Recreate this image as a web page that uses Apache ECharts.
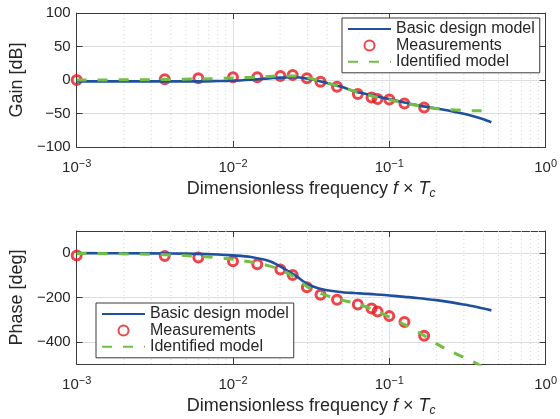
<!DOCTYPE html>
<html>
<head>
<meta charset="utf-8">
<script src="https://cdn.jsdelivr.net/npm/echarts@6/dist/echarts.min.js"></script>
<style>
html, body { margin: 0; padding: 0; background: #fff; }
#chart { width: 560px; height: 419px; }
</style>
</head>
<body>
<div id="chart"></div>
<script>
var textColor = '#262626';
var boxColor = '#3a3a3a';
var gridColor = '#dedede';
var font = '"Liberation Sans", Arial, Helvetica, sans-serif';

// 测量点
var freqMeas = [0.001, 0.00366, 0.006, 0.01, 0.0143, 0.0201, 0.0241, 0.0297, 0.0363, 0.0463, 0.0629, 0.077, 0.0841, 0.1, 0.125, 0.167];
var gainMeas = [0, 1, 2.5, 4, 4, 6, 7.5, 2.5, -2.5, -10, -21, -26, -28.5, -29, -35, -41];
var phaseMeas = [-10, -13, -20, -36, -50, -74, -99, -154, -188, -210, -232, -250, -263, -284, -311, -373];

// 基本设计模型
var freqBasic = [0.001, 0.002, 0.004, 0.006, 0.008, 0.01, 0.013, 0.016, 0.018, 0.02, 0.025, 0.03, 0.035, 0.04, 0.05, 0.06, 0.07, 0.08, 0.1, 0.125, 0.15, 0.2, 0.25, 0.3, 0.35, 0.4, 0.45];
var gainBasic = [-2, -2, -2, -2, -1.5, -1, 0.5, 2, 3, 3.5, 4, 2, -1, -4.5, -10.5, -17, -20.5, -23.5, -28.5, -33.5, -37.5, -42.5, -46.5, -50.5, -54.5, -58.5, -63];
var phaseBasic = [0, -0.5, -1.5, -3, -6, -10, -17, -30, -42, -60, -100, -140, -158, -167, -176, -180, -183, -185, -191, -197, -202, -212, -222, -232, -241, -250, -258];

// 辨识模型
var freqIdent = [0.001, 0.003, 0.006, 0.01, 0.015, 0.02, 0.025, 0.03, 0.036, 0.047, 0.063, 0.08, 0.1, 0.125, 0.167, 0.2, 0.25, 0.3, 0.35, 0.45];
var gainIdent = [0, 0.5, 1.5, 3, 4.5, 6, 6, 3.5, -1.5, -9, -18.5, -24.5, -29.5, -34.5, -40, -42.5, -44.5, -45.5, -46, -46];
var phaseIdent = [-1, -5, -14, -28, -48, -74, -110, -152, -180, -207, -230, -255, -288, -322, -372, -408, -445, -470, -493, -535];

// 次网格线 (2..9 × 每个十倍频)
var decades = [0.001, 0.01, 0.1];
var minorFreqs = [];
decades.forEach(function (d) {
    for (var k = 2; k <= 9; k++) minorFreqs.push(+(d * k).toPrecision(3));
});

var legendNames = ['Basic design model', 'Measurements', 'Identified model'];

function zip(xs, ys) {
    return xs.map(function (x, i) { return [x, ys[i]]; });
}
function minus(v) {
    return String(v).replace('-', '\u2212');
}

var myChart = echarts.init(document.getElementById('chart'));

function xMain(g) {
    return {
        type: 'log',
        logBase: 10,
        gridIndex: g,
        min: 0.001,
        max: 1,
        axisLine: { show: true, onZero: false, lineStyle: { color: boxColor } },
        axisTick: { show: true, inside: true, length: 6, lineStyle: { color: boxColor } },
        axisLabel: {
            color: textColor,
            fontFamily: font,
            margin: 11,
            formatter: function (v) {
                return '{b|10}{sup|' + minus(Math.round(Math.log10(v))) + '}';
            },
            rich: {
                b: { fontSize: 15, lineHeight: 20, color: textColor, fontFamily: font },
                sup: { fontSize: 11, lineHeight: 11, verticalAlign: 'top', color: textColor, fontFamily: font }
            }
        },
        splitLine: { show: true, lineStyle: { color: gridColor } },
        name: 'Dimensionless frequency {i|f} \u00d7 {i|T}{sub|c}',
        nameLocation: 'middle',
        nameGap: 31,
        nameTextStyle: {
            color: textColor,
            fontSize: 18,
            lineHeight: 22,
            fontFamily: font,
            rich: {
                i: { fontStyle: 'italic', fontSize: 18, lineHeight: 22, color: textColor, fontFamily: font },
                sub: { fontStyle: 'italic', fontSize: 12, lineHeight: 12, verticalAlign: 'bottom', color: textColor, fontFamily: font }
            }
        }
    };
}
function xTop(g) {
    return {
        type: 'log', logBase: 10, gridIndex: g, min: 0.001, max: 1, position: 'top',
        axisLine: { show: true, onZero: false, lineStyle: { color: boxColor } },
        axisTick: { show: true, inside: true, length: 6, lineStyle: { color: boxColor } },
        axisLabel: { show: false },
        splitLine: { show: false }
    };
}
function yMain(g, name, min, max, extra) {
    var ax = {
        type: 'value',
        gridIndex: g,
        min: min,
        max: max,
        axisLine: { show: true, onZero: false, lineStyle: { color: boxColor } },
        axisTick: { show: true, inside: true, length: 6, lineStyle: { color: boxColor } },
        axisLabel: { color: textColor, fontSize: 15, fontFamily: font, margin: 6, formatter: minus },
        splitLine: { show: true, lineStyle: { color: gridColor } },
        name: name,
        nameLocation: 'middle',
        nameGap: 47,
        nameTextStyle: { color: textColor, fontSize: 18, fontFamily: font }
    };
    for (var k in extra) ax[k] = extra[k];
    return ax;
}
function yRight(g, min, max, extra) {
    var ax = {
        type: 'value', gridIndex: g, min: min, max: max, position: 'right',
        axisLine: { show: true, onZero: false, lineStyle: { color: boxColor } },
        axisTick: { show: true, inside: true, length: 6, lineStyle: { color: boxColor } },
        axisLabel: { show: false },
        splitLine: { show: false }
    };
    for (var k in extra) ax[k] = extra[k];
    return ax;
}
function legendAt(left, top) {
    var noDot = { color: 'rgba(0,0,0,0)', borderWidth: 0, opacity: 0 };
    return {
        orient: 'vertical',
        left: left,
        top: top,
        backgroundColor: '#fff',
        borderColor: boxColor,
        borderWidth: 1,
        borderRadius: 0,
        padding: [3, 5, 3, 5],
        itemWidth: 43,
        itemHeight: 10,
        itemGap: 0.4,
        selectedMode: false,
        textStyle: { color: textColor, fontSize: 16, fontFamily: font },
        data: [
            { name: legendNames[0], itemStyle: noDot },
            { name: legendNames[1] },
            { name: legendNames[2], itemStyle: noDot }
        ]
    };
}
// 用折线画次网格线, '-' 断开
function minorSeries(g, ymin, ymax) {
    var pts = [];
    minorFreqs.forEach(function (f) {
        pts.push([f, ymin], [f, ymax], [f, '-']);
    });
    return {
        type: 'line',
        xAxisIndex: g * 2,
        yAxisIndex: g * 2,
        data: pts,
        symbol: 'none',
        silent: true,
        z: 1,
        lineStyle: { color: '#d4d4d4', type: [1, 3], width: 1 }
    };
}
function modelSeries(g, name, xs, ys, style) {
    return {
        name: name,
        type: 'line',
        xAxisIndex: g * 2,
        yAxisIndex: g * 2,
        data: zip(xs, ys),
        symbol: 'none',
        smooth: 0.3,
        lineStyle: style,
        itemStyle: { color: style.color }
    };
}
function measSeries(g, ys) {
    return {
        name: 'Measurements',
        type: 'scatter',
        xAxisIndex: g * 2,
        yAxisIndex: g * 2,
        data: zip(freqMeas, ys),
        symbol: 'circle',
        symbolSize: 9,
        itemStyle: { color: 'rgba(255,255,255,0)', borderColor: '#e8161e', borderWidth: 3 }
    };
}

var blueStyle = { color: '#1f4f9f', width: 2.6 };
var greenStyle = { color: '#72bf44', width: 3, type: [10, 11] };

var option = {
    animation: false,
    backgroundColor: '#fff',
    grid: [
        { left: 73, top: 13, width: 475, height: 134 },
        { left: 73, top: 231, width: 475, height: 133 }
    ],
    legend: [legendAt(342, 18), legendAt(96, 303)],
    xAxis: [xMain(0), xTop(0), xMain(1), xTop(1)],
    yAxis: [
        yMain(0, 'Gain [dB]', -100, 100, { interval: 50 }),
        yRight(0, -100, 100, { interval: 50 }),
        yMain(1, 'Phase [deg]', -500, 100, { splitNumber: 3, axisLabel: { color: textColor, fontSize: 15, fontFamily: font, margin: 6, formatter: minus, showMinLabel: false, showMaxLabel: false } }),
        yRight(1, -500, 100, { splitNumber: 3 })
    ],
    series: [
        minorSeries(0, -100, 100),
        modelSeries(0, 'Basic design model', freqBasic, gainBasic, blueStyle),
        measSeries(0, gainMeas),
        modelSeries(0, 'Identified model', freqIdent, gainIdent, greenStyle),
        minorSeries(1, -500, 100),
        modelSeries(1, 'Basic design model', freqBasic, phaseBasic, blueStyle),
        measSeries(1, phaseMeas),
        modelSeries(1, 'Identified model', freqIdent, phaseIdent, greenStyle)
    ]
};
myChart.setOption(option);
</script>
</body>
</html>
